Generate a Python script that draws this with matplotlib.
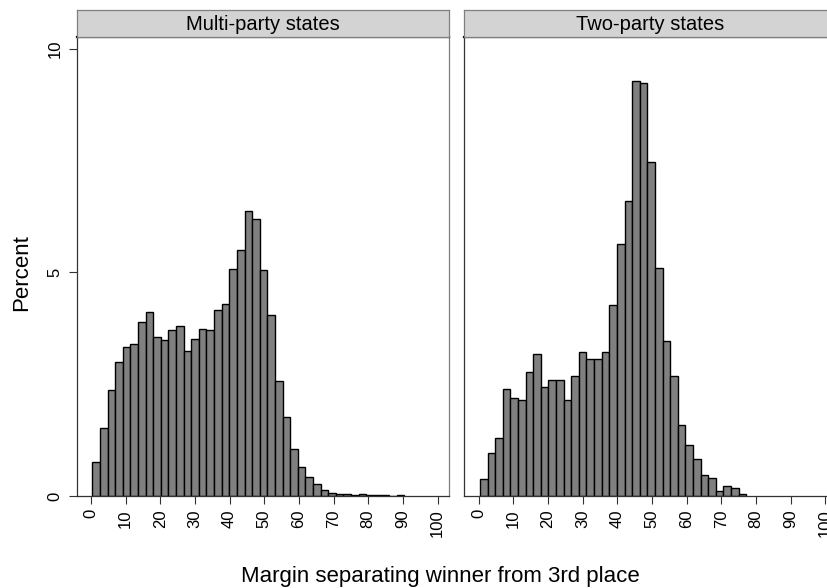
import numpy as np
import matplotlib.pyplot as plt

plt.rcParams['font.family'] = ['Liberation Sans', 'DejaVu Sans']

# histogram bins (Stata-style: start at min, equal width)
bin_start = 0.38
bin_width = 2.196

multi_party = [0.77, 1.53, 2.37, 3.00, 3.34, 3.40, 3.88, 4.11, 3.56, 3.48,
               3.72, 3.80, 3.24, 3.52, 3.74, 3.72, 4.16, 4.29, 5.07, 5.50,
               6.36, 6.19, 5.05, 4.04, 2.57, 1.76, 1.04, 0.65, 0.42, 0.27,
               0.14, 0.07, 0.05, 0.05, 0.015, 0.05, 0.015, 0.02, 0.02, 0.0,
               0.03]
two_party = [0.37, 0.97, 1.29, 2.40, 2.18, 2.14, 2.78, 3.18, 2.43, 2.60,
             2.60, 2.15, 2.69, 3.22, 3.06, 3.06, 3.22, 4.26, 5.64, 6.60,
             9.27, 9.23, 7.46, 5.10, 3.47, 2.69, 1.58, 1.15, 0.83, 0.47,
             0.40, 0.12, 0.23, 0.19, 0.05]

panel_titles = ["Multi-party states", "Two-party states"]
x_ticks = list(range(0, 101, 10))
y_ticks = [0, 5, 10]

W, H = 828, 588
fig = plt.figure(figsize=(W / 100, H / 100), dpi=100)


def px_axes(x0, y0, x1, y1):
    # pixel box (top-left origin) -> figure fraction axes
    return fig.add_axes([x0 / W, (H - y1) / H, (x1 - x0) / W, (y1 - y0) / H])


panel_left = [76.7, 464.3]
panel_w = 372.3
for i, (title, vals) in enumerate(zip(panel_titles, [multi_party, two_party])):
    x0 = panel_left[i]
    ax = px_axes(x0, 37, x0 + panel_w, 496)
    lefts = bin_start + bin_width * np.arange(len(vals))
    ax.bar(lefts, vals, width=bin_width, align='edge', color='#808080',
           edgecolor='black', linewidth=1.0)
    ax.set_xlim(-4.12, 103.3)
    ax.set_ylim(0, 10.26)
    ax.set_xticks(x_ticks)
    ax.set_xticklabels([str(t) for t in x_ticks], rotation=90, fontsize=12)
    ax.tick_params(axis='x', direction='out', length=5.5, width=0.8, pad=4,
                   color='#333333')
    if i == 0:
        ax.set_yticks(y_ticks)
        ax.set_yticklabels([str(t) for t in y_ticks], rotation=90,
                           fontsize=12, va='center')
        ax.tick_params(axis='y', direction='out', length=6, width=0.8, pad=4,
                       color='#333333')
    else:
        ax.set_yticks([])
    for side in ['left', 'bottom']:
        ax.spines[side].set_color('#333333')
        ax.spines[side].set_linewidth(0.9)
    ax.spines['right'].set_color('#7f7f7f')
    ax.spines['right'].set_linewidth(0.9)
    ax.spines['top'].set_color('black')
    ax.spines['top'].set_linewidth(1.6)

    # panel header strip
    strip = px_axes(x0, 10, x0 + panel_w, 37)
    strip.set_facecolor('#d3d3d3')
    strip.set_xticks([])
    strip.set_yticks([])
    for s in strip.spines.values():
        s.set_color('#7f7f7f')
        s.set_linewidth(0.9)
    strip.text(0.5, 0.45, title, ha='center', va='center', fontsize=14.5,
               transform=strip.transAxes)

fig.text(22 / W, 1 - 273 / H, "Percent", rotation=90, ha='center',
         va='center', fontsize=16)
fig.text(440 / W, 1 - 582 / H, "Margin separating winner from 3rd place",
         ha='center', va='baseline', fontsize=16)

fig.savefig("out.png", dpi=100)
